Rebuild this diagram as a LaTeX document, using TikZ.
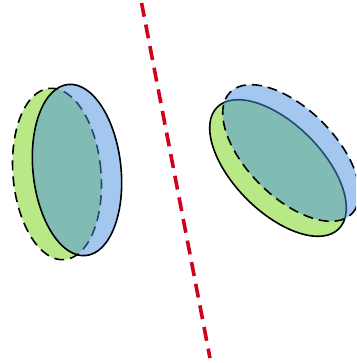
\documentclass[tikz,border=0pt]{standalone}
\definecolor{leafgreen}{HTML}{B8E986}
\definecolor{skyblue}{HTML}{4A90E2}
\definecolor{mirrorred}{HTML}{D0021B}
\tikzset{
  rim/.style={draw=black, line width=1.6pt},
  hiddenrim/.style={rim, dash pattern=on 10pt off 6pt},
  mirror/.style={draw=mirrorred, line width=3.6pt, dash pattern=on 14pt off 8pt, dash phase=-3pt}
}
\begin{document}
\begin{tikzpicture}[x=1pt,y=-1pt]
    \useasboundingbox (0,0) rectangle (356,363);
    \clip (0,0) rectangle (356,363);
    \coordinate (G1) at (57,174); \coordinate (B1) at (77,170);
    \coordinate (G2) at (278,168); \coordinate (B2) at (291,153);
    \coordinate (M1) at (141,0); \coordinate (M2) at (210,358);
    % left pair
    \path[fill=leafgreen, hiddenrim] (G1) ellipse [x radius=44pt, y radius=86pt, rotate=5];
    \path[fill=skyblue, fill opacity=0.5, rim] (B1) ellipse [x radius=44pt, y radius=86pt, rotate=6];
    % right pair
    \path[fill=leafgreen, rim] (G2) ellipse [x radius=86pt, y radius=44pt, rotate=-45];
    \path[fill=skyblue, fill opacity=0.5, hiddenrim] (B2) ellipse [x radius=86pt, y radius=44pt, rotate=-45];
    \draw[mirror] (M1)--(M2);
  \end{tikzpicture}
\end{document}
